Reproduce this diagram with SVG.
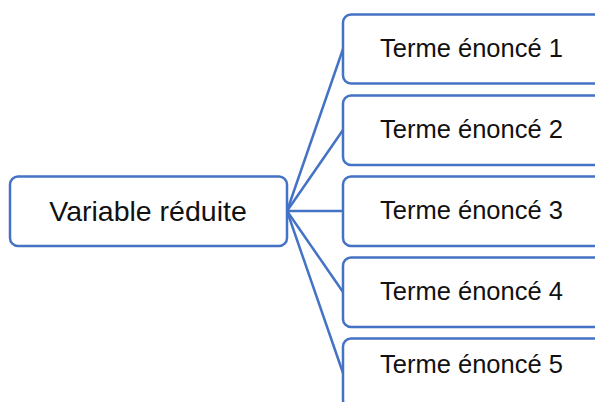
<svg xmlns="http://www.w3.org/2000/svg" width="595" height="402" viewBox="0 0 595 402">
<style>
.box{fill:#fff;stroke:#4472C4;stroke-width:2.5}
.ln{stroke:#4472C4;stroke-width:2.5;fill:none}
text{font-family:"Liberation Sans",Arial,sans-serif;fill:#111;text-anchor:middle}
.s{font-size:25.5px}
.l{font-size:28.5px}
</style>
<rect width="595" height="402" fill="#fff"/>
<g id="connectors">
<line class="ln" x1="287" y1="211" x2="343" y2="49"/>
<line class="ln" x1="287" y1="211" x2="343" y2="130"/>
<line class="ln" x1="287" y1="211" x2="343" y2="211"/>
<line class="ln" x1="287" y1="211" x2="343" y2="292"/>
<line class="ln" x1="287" y1="211" x2="343" y2="373"/>
</g>
<g id="root">
<rect class="box" x="10" y="176.5" width="277" height="69.5" rx="8"/>
<text class="l" x="148" y="220.5">Variable réduite</text>
</g>
<g id="n1">
<rect class="box" x="343" y="14.5" width="260" height="69" rx="8"/>
<text class="s" x="471.5" y="56.5">Terme énoncé 1</text>
</g>
<g id="n2">
<rect class="box" x="343" y="95.5" width="260" height="69.5" rx="8"/>
<text class="s" x="471.5" y="137.5">Terme énoncé 2</text>
</g>
<g id="n3">
<rect class="box" x="343" y="176.5" width="260" height="69.5" rx="8"/>
<text class="s" x="471.5" y="218.5">Terme énoncé 3</text>
</g>
<g id="n4">
<rect class="box" x="343" y="257.5" width="260" height="69.5" rx="8"/>
<text class="s" x="471.5" y="299.5">Terme énoncé 4</text>
</g>
<g id="n5">
<rect class="box" x="343" y="338.5" width="260" height="69.5" rx="8"/>
<text class="s" x="471.5" y="373">Terme énoncé 5</text>
</g>
</svg>
